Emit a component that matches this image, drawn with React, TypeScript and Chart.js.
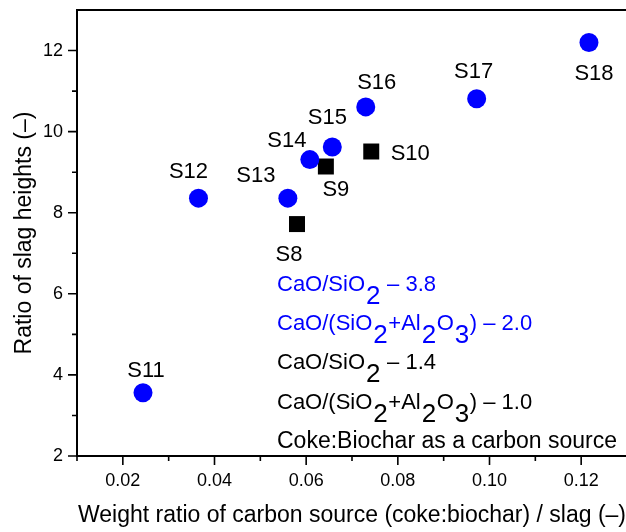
import React, { useEffect, useRef } from 'react';
import { Chart, registerables } from 'chart.js';

Chart.register(...registerables);

// ---- data ----
const blueLabels = ['S11', 'S12', 'S13', 'S14', 'S15', 'S16', 'S17', 'S18'];
const blueX = [0.0244, 0.0365, 0.056, 0.0608, 0.0657, 0.073, 0.0972, 0.1217];
const blueY = [3.56, 8.36, 8.36, 9.31, 9.62, 10.61, 10.81, 12.2];

const blackLabels = ['S8', 'S9', 'S10'];
const blackX = [0.058, 0.0643, 0.0742];
const blackY = [7.72, 9.14, 9.51];

const xMajorTicks = [0.02, 0.04, 0.06, 0.08, 0.1, 0.12];
const xMinorTicks = [0.01, 0.03, 0.05, 0.07, 0.09, 0.11];
const yMajorTicks = [2, 4, 6, 8, 10, 12];
const yMinorTicks = [3, 5, 7, 9, 11];

const xTitle = 'Weight ratio of carbon source (coke:biochar) / slag (–)';
const yTitle = 'Ratio of slag heights (–)';

// legend text lines: [text, isSubscript]
const legendBlueLines: [string, boolean][][] = [
  [['CaO/SiO', false], ['2', true], [' – 3.8', false]],
  [['CaO/(SiO', false], ['2', true], ['+Al', false], ['2', true], ['O', false], ['3', true], [') – 2.0', false]],
];
const legendBlackLines: [string, boolean][][] = [
  [['CaO/SiO', false], ['2', true], [' – 1.4', false]],
  [['CaO/(SiO', false], ['2', true], ['+Al', false], ['2', true], ['O', false], ['3', true], [') – 1.0', false]],
  [['Coke:Biochar as a carbon source', false]],
];

// ---- styles ----
const FONT = '"Liberation Sans", Arial, Helvetica, sans-serif';
const BLUE = '#0000FF';
const BLACK = '#000000';

// label offsets (px) relative to the point
const labelOffsets: Record<string, [number, number]> = {
  S11: [3, -22],
  S12: [-10, -26],
  S13: [-32, -22],
  S14: [-23, -19],
  S15: [-5, -29],
  S16: [11, -24],
  S17: [-3, -27],
  S18: [5, 32],
  S8: [-8, 31],
  S9: [10, 23],
  S10: [39, 2],
};

const annotationPlugin = {
  id: 'annotations',
  afterDraw(chart: any) {
    const { ctx, chartArea, scales } = chart;
    const xs = scales.x;
    const ys = scales.y;
    ctx.save();
    ctx.strokeStyle = BLACK;
    ctx.lineWidth = 2;
    ctx.lineCap = 'butt';
    // axes lines
    ctx.beginPath();
    ctx.moveTo(chartArea.left, chartArea.top);
    ctx.lineTo(chartArea.left, chartArea.bottom + 1);
    ctx.moveTo(chartArea.left - 1, chartArea.bottom);
    ctx.lineTo(chartArea.right + 5, chartArea.bottom);
    ctx.moveTo(chartArea.left - 1, chartArea.top);
    ctx.lineTo(chartArea.right + 5, chartArea.top);
    ctx.stroke();
    // ticks
    ctx.lineWidth = 1.6;
    ctx.beginPath();
    xMajorTicks.forEach((v) => {
      const px = xs.getPixelForValue(v);
      ctx.moveTo(px, chartArea.bottom);
      ctx.lineTo(px, chartArea.bottom + 9);
    });
    xMinorTicks.forEach((v) => {
      const px = xs.getPixelForValue(v);
      ctx.moveTo(px, chartArea.bottom);
      ctx.lineTo(px, chartArea.bottom + 5);
    });
    yMajorTicks.forEach((v) => {
      const py = ys.getPixelForValue(v);
      ctx.moveTo(chartArea.left, py);
      ctx.lineTo(chartArea.left - 9, py);
    });
    yMinorTicks.forEach((v) => {
      const py = ys.getPixelForValue(v);
      ctx.moveTo(chartArea.left, py);
      ctx.lineTo(chartArea.left - 5, py);
    });
    ctx.stroke();

    // point labels
    ctx.font = `22px ${FONT}`;
    ctx.textAlign = 'center';
    ctx.textBaseline = 'middle';
    ctx.fillStyle = BLACK;
    const drawLabels = (labels: string[], xv: number[], yv: number[]) => {
      labels.forEach((l, i) => {
        const off = labelOffsets[l] || [0, -24];
        ctx.fillText(l, xs.getPixelForValue(xv[i]) + off[0], ys.getPixelForValue(yv[i]) + off[1]);
      });
    };
    drawLabels(blueLabels, blueX, blueY);
    drawLabels(blackLabels, blackX, blackY);

    // legend text block
    ctx.textAlign = 'left';
    ctx.textBaseline = 'alphabetic';
    const lx = chartArea.left + 200;
    const lines = [
      ...legendBlueLines.map((l) => ({ parts: l, color: BLUE })),
      ...legendBlackLines.map((l) => ({ parts: l, color: BLACK })),
    ];
    const lastBaseline = chartArea.bottom - 8;
    const step = 39.3;
    lines.forEach((line, i) => {
      const base = lastBaseline - (lines.length - 1 - i) * step;
      let x = lx;
      ctx.fillStyle = line.color;
      const single = line.parts.length === 1;
      line.parts.forEach(([t, sub]) => {
        if (sub) {
          ctx.font = `26px ${FONT}`;
          ctx.fillText(t, x + 1, base + 13);
          x += ctx.measureText(t).width + 1.5;
        } else {
          ctx.font = `${single ? 23 : 22}px ${FONT}`;
          ctx.fillText(t, x, base);
          x += ctx.measureText(t).width;
        }
      });
    });
    ctx.restore();
  },
};

export default function App() {
  const canvasRef = useRef<HTMLCanvasElement | null>(null);

  useEffect(() => {
    if (!canvasRef.current) return;
    Chart.defaults.font.family = FONT;
    Chart.defaults.color = BLACK;
    const chart = new Chart(canvasRef.current, {
      type: 'scatter',
      data: {
        datasets: [
          {
            label: 'blue',
            data: blueX.map((x, i) => ({ x, y: blueY[i] })),
            backgroundColor: BLUE,
            borderColor: BLUE,
            borderWidth: 0,
            pointStyle: 'circle',
            pointRadius: 9.5,
          },
          {
            label: 'black',
            data: blackX.map((x, i) => ({ x, y: blackY[i] })),
            backgroundColor: BLACK,
            borderColor: BLACK,
            borderWidth: 0,
            pointStyle: 'rect',
            pointRadius: 11.3,
          },
        ],
      },
      options: {
        responsive: false,
        animation: false,
        devicePixelRatio: 1,
        layout: { autoPadding: false, padding: { top: 10, right: 3, left: 0, bottom: 0 } },
        plugins: {
          legend: { display: false },
          tooltip: { enabled: false },
        },
        scales: {
          x: {
            type: 'linear',
            min: 0.01,
            max: 0.13,
            afterBuildTicks: (scale: any) => {
              scale.ticks = xMajorTicks.map((v) => ({ value: v }));
            },
            afterFit: (scale: any) => {
              scale.height = 76;
              scale.paddingLeft = 0;
              scale.paddingRight = 0;
            },
            grid: { display: false, drawTicks: false },
            border: { display: false },
            ticks: {
              font: { size: 18 },
              color: BLACK,
              padding: 14,
              maxRotation: 0,
              autoSkip: false,
              callback: (v: any) => Number(v).toFixed(2),
            },
            title: {
              display: true,
              text: xTitle,
              font: { size: 23 },
              color: BLACK,
              padding: { top: 0, bottom: 3 },
            },
          },
          y: {
            type: 'linear',
            min: 2,
            max: 13,
            afterBuildTicks: (scale: any) => {
              scale.ticks = yMajorTicks.map((v) => ({ value: v }));
            },
            afterFit: (scale: any) => {
              scale.width = 77;
              scale.paddingTop = 0;
              scale.paddingBottom = 0;
            },
            grid: { display: false, drawTicks: false },
            border: { display: false },
            ticks: {
              font: { size: 18 },
              color: BLACK,
              padding: 14,
              autoSkip: false,
              callback: (v: any) => String(v),
            },
            title: {
              display: true,
              text: yTitle,
              font: { size: 23 },
              color: BLACK,
              padding: { top: 11, bottom: 0 },
            },
          },
        },
      },
      plugins: [annotationPlugin],
    });
    return () => chart.destroy();
  }, []);

  return (
    <div
      style={{
        position: 'fixed',
        left: 0,
        top: 0,
        width: 626,
        height: 532,
        overflow: 'hidden',
        background: '#fff',
      }}
    >
      <canvas ref={canvasRef} width={630} height={532} style={{ display: 'block' }} />
    </div>
  );
}
